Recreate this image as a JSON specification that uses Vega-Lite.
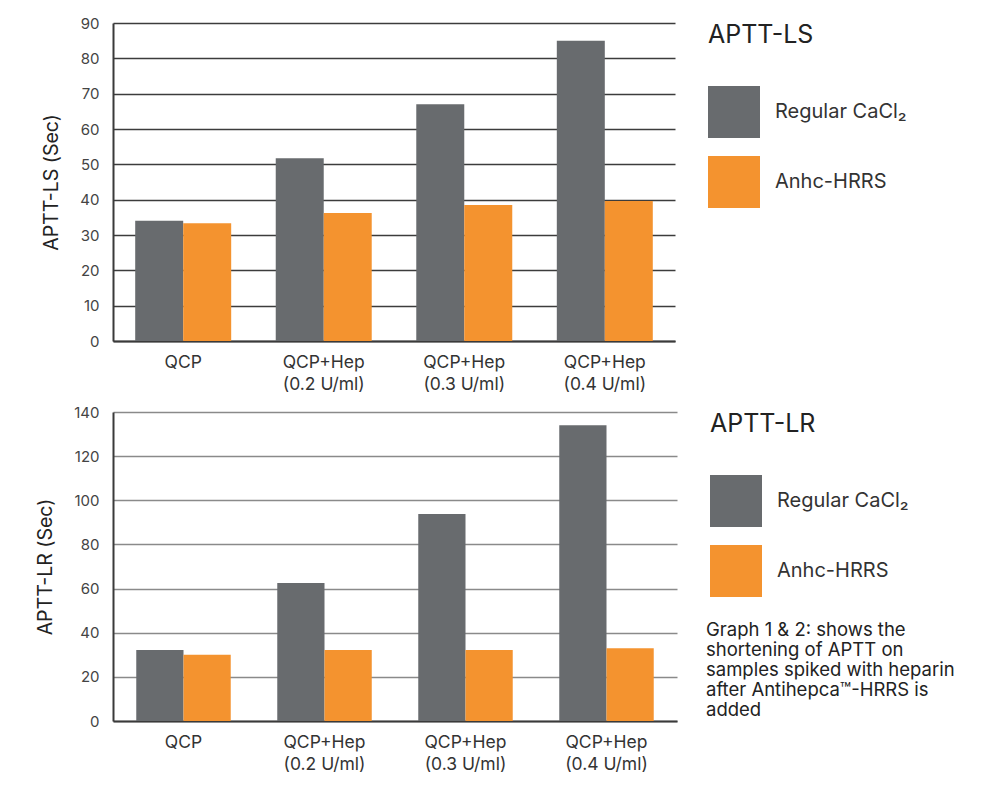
{
  "$schema": "https://vega.github.io/schema/vega-lite/v6.json",
  "background": "white",
  "padding": {"left": 35, "top": 16, "right": 5, "bottom": 5},
  "spacing": 12,
  "config": {
    "font": "Inter",
    "view": {"stroke": null},
    "axis": {
      "labelFont": "Inter",
      "titleFont": "Inter",
      "ticks": false,
      "domainColor": "#3a3a3a",
      "domainWidth": 2
    },
    "axisX": {
      "labelFontSize": 17.5,
      "labelColor": "#333",
      "labelPadding": 12,
      "labelLineHeight": 22,
      "labelAngle": 0,
      "title": null,
      "grid": false
    },
    "axisY": {
      "labelFontSize": 15,
      "labelColor": "#444",
      "labelPadding": 14,
      "titleFontSize": 19.5,
      "titleFontWeight": "normal",
      "titleColor": "#222",
      "titlePadding": 18,
      "gridWidth": 1.5
    },
    "legend": {
      "orient": "right",
      "offset": 33,
      "padding": 0,
      "titleFont": "Inter",
      "titleFontSize": 25,
      "titleFontWeight": "normal",
      "titleColor": "#222",
      "titlePadding": 38,
      "symbolType": "square",
      "symbolSize": 2704,
      "symbolStrokeWidth": 0,
      "symbolOpacity": 1,
      "labelFont": "Inter",
      "labelFontSize": 20,
      "labelColor": "#333",
      "labelOffset": 15,
      "labelLimit": 300,
      "rowPadding": 18
    }
  },
  "datasets": {
    "ls": [
      {"sample": "QCP", "reagent": "Regular CaCl₂", "value": 34},
      {"sample": "QCP", "reagent": "Anhc-HRRS", "value": 33.3},
      {"sample": "QCP+Hep|(0.2 U/ml)", "reagent": "Regular CaCl₂", "value": 51.7},
      {"sample": "QCP+Hep|(0.2 U/ml)", "reagent": "Anhc-HRRS", "value": 36.2},
      {"sample": "QCP+Hep|(0.3 U/ml)", "reagent": "Regular CaCl₂", "value": 67},
      {"sample": "QCP+Hep|(0.3 U/ml)", "reagent": "Anhc-HRRS", "value": 38.5},
      {"sample": "QCP+Hep|(0.4 U/ml)", "reagent": "Regular CaCl₂", "value": 85},
      {"sample": "QCP+Hep|(0.4 U/ml)", "reagent": "Anhc-HRRS", "value": 39.6}
    ],
    "lr": [
      {"sample": "QCP", "reagent": "Regular CaCl₂", "value": 32.2},
      {"sample": "QCP", "reagent": "Anhc-HRRS", "value": 30},
      {"sample": "QCP+Hep|(0.2 U/ml)", "reagent": "Regular CaCl₂", "value": 62.5},
      {"sample": "QCP+Hep|(0.2 U/ml)", "reagent": "Anhc-HRRS", "value": 32.2},
      {"sample": "QCP+Hep|(0.3 U/ml)", "reagent": "Regular CaCl₂", "value": 93.8},
      {"sample": "QCP+Hep|(0.3 U/ml)", "reagent": "Anhc-HRRS", "value": 32.2},
      {"sample": "QCP+Hep|(0.4 U/ml)", "reagent": "Regular CaCl₂", "value": 134},
      {"sample": "QCP+Hep|(0.4 U/ml)", "reagent": "Anhc-HRRS", "value": 33}
    ]
  },
  "resolve": {
    "scale": {"color": "independent", "y": "independent", "x": "independent", "xOffset": "independent"},
    "legend": {"color": "independent"}
  },
  "vconcat": [
    {
      "width": 562,
      "height": 318,
      "data": {"name": "ls"},
      "mark": {"type": "bar"},
      "encoding": {
        "x": {
          "field": "sample",
          "type": "nominal",
          "sort": null,
          "scale": {"paddingInner": 0.317, "paddingOuter": 0.158},
          "axis": {"labelExpr": "split(datum.label, '|')"}
        },
        "xOffset": {
          "field": "reagent",
          "type": "nominal",
          "sort": ["Regular CaCl₂", "Anhc-HRRS"],
          "scale": {"paddingInner": 0, "paddingOuter": 0}
        },
        "y": {
          "field": "value",
          "type": "quantitative",
          "title": "APTT-LS (Sec)",
          "scale": {"domain": [0, 90], "nice": false},
          "axis": {"values": [0, 10, 20, 30, 40, 50, 60, 70, 80, 90], "gridColor": "#3c3c3c"}
        },
        "color": {
          "field": "reagent",
          "type": "nominal",
          "title": "APTT-LS",
          "sort": ["Regular CaCl₂", "Anhc-HRRS"],
          "scale": {"domain": ["Regular CaCl₂", "Anhc-HRRS"], "range": ["#686b6e", "#f4932f"]}
        }
      }
    },
    {
      "width": 564,
      "height": 309,
      "data": {"name": "lr"},
      "title": {
        "text": ["Graph 1 & 2: shows the", "shortening of APTT on", "samples spiked with heparin", "after Antihepca™-HRRS is", "added"],
        "orient": "bottom",
        "anchor": "start",
        "frame": "group",
        "dx": 593,
        "dy": -156,
        "fontSize": 18.5,
        "fontWeight": "normal",
        "lineHeight": 20,
        "color": "#222",
        "font": "Inter"
      },
      "mark": {"type": "bar"},
      "encoding": {
        "x": {
          "field": "sample",
          "type": "nominal",
          "sort": null,
          "scale": {"paddingInner": 0.33, "paddingOuter": 0.165},
          "axis": {"labelExpr": "split(datum.label, '|')"}
        },
        "xOffset": {
          "field": "reagent",
          "type": "nominal",
          "sort": ["Regular CaCl₂", "Anhc-HRRS"],
          "scale": {"paddingInner": 0, "paddingOuter": 0}
        },
        "y": {
          "field": "value",
          "type": "quantitative",
          "title": "APTT-LR (Sec)",
          "scale": {"domain": [0, 140], "nice": false},
          "axis": {"values": [0, 20, 40, 60, 80, 100, 120, 140], "gridColor": "#8a8a8a"}
        },
        "color": {
          "field": "reagent",
          "type": "nominal",
          "title": "APTT-LR",
          "sort": ["Regular CaCl₂", "Anhc-HRRS"],
          "scale": {"domain": ["Regular CaCl₂", "Anhc-HRRS"], "range": ["#686b6e", "#f4932f"]}
        }
      }
    }
  ]
}
